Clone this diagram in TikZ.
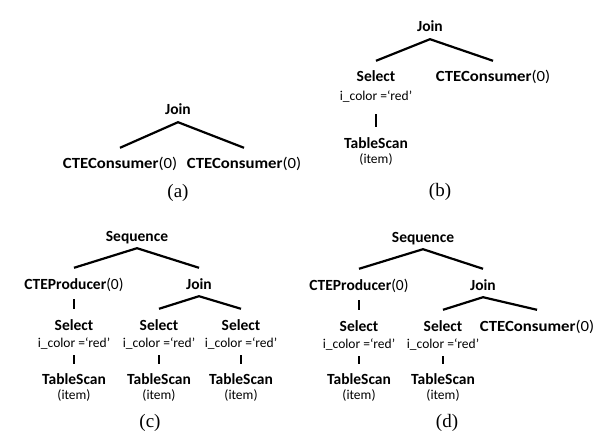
\documentclass[tikz,border=0pt]{standalone}
\usepackage{fontspec}
\setmainfont{Carlito}
\newfontfamily\capfont{Liberation Serif}
\begin{document}
\begin{tikzpicture}[x=1pt,y=-1pt,
  lab/.style={inner sep=0pt,anchor=base,text height=10pt,text depth=3pt},
  opn/.style={lab,font=\fontsize{15.5}{17}\selectfont\bfseries},
  sublab/.style={lab,font=\fontsize{13.5}{16}\selectfont},
  captxt/.style={inner sep=0pt,anchor=base,font=\capfont\fontsize{19}{21}\selectfont},
  treeln/.style={line width=2.2pt},
  barln/.style={line width=2.8pt}]
\useasboundingbox (0,0) rectangle (607,446);
\newcommand{\opc}[1]{\textbf{#1}\textmd{(0)}}
\newcommand{\consm}{\scalebox{1.08}[1]{\opc{CTEConsumer}}}
% ---------- (a)
\node[opn] (aj) at (178,115) {Join};
\node[opn] (ac1) at (120,169) {\consm};
\node[opn] (ac2) at (244,169) {\consm};
\node[captxt] (acap) at (178,198) {(a)};
\draw[treeln] ([yshift=11pt]ac1.north) -- ([yshift=-4pt]aj.south) -- ([yshift=11pt]ac2.north);
% ---------- (b)
\node[opn] (bj) at (430,32) {Join};
\node[opn] (bs) at (376,82) {Select};
\node[sublab] (bsc) at (376,101) {i\_color =‘red’};
\node[opn] (bc) at (493,82) {\consm};
\node[opn] (bt) at (376,149) {TableScan};
\node[sublab] (bti) at (376,164) {(item)};
\node[captxt] (bcap) at (440,197) {(b)};
\draw[treeln] ([yshift=11pt]bs.north) -- ([yshift=-4pt]bj.south) -- ([yshift=11pt]bc.north);
\draw[barln] ([yshift=-10pt]bsc.south) -- ([yshift=12pt]bt.north);
% ---------- (c)
\node[opn] (cq) at (137,241) {Sequence};
\node[opn] (cp) at (74,289) {\opc{CTEProducer}};
\node[opn] (cj) at (199,289) {Join};
\node[opn] (cs1) at (74,330) {Select};
\node[opn] (cs2) at (159,330) {Select};
\node[opn] (cs3) at (241,330) {Select};
\node[sublab] (cc1) at (74,347) {i\_color =‘red’};
\node[sublab] (cc2) at (159,347) {i\_color =‘red’};
\node[sublab] (cc3) at (241,347) {i\_color =‘red’};
\node[opn] (ct1) at (74,384) {TableScan};
\node[opn] (ct2) at (159,384) {TableScan};
\node[opn] (ct3) at (241,384) {TableScan};
\node[sublab] (ci1) at (74,399) {(item)};
\node[sublab] (ci2) at (159,399) {(item)};
\node[sublab] (ci3) at (241,399) {(item)};
\node[captxt] (ccap) at (150,427) {(c)};
\draw[treeln] ([yshift=11pt]cp.north) -- ([yshift=-4pt]cq.south) -- ([yshift=11pt]cj.north);
\draw[treeln] ([yshift=11pt]cs2.north) -- ([yshift=-4pt]cj.south) -- ([yshift=11pt]cs3.north);
\draw[barln] ([yshift=-7pt]cp.south) -- ([yshift=11pt]cs1.north);
\draw[barln] ([yshift=-5pt]cc1.south) -- ([yshift=10pt]ct1.north);
\draw[barln] ([yshift=-5pt]cc2.south) -- ([yshift=10pt]ct2.north);
\draw[barln] ([yshift=-5pt]cc3.south) -- ([yshift=10pt]ct3.north);
% ---------- (d)
\node[opn] (dq) at (423,242) {Sequence};
\node[opn] (dp) at (359,290) {\opc{CTEProducer}};
\node[opn] (dj) at (483,290) {Join};
\node[opn] (ds1) at (359,331) {Select};
\node[opn] (ds2) at (443,331) {Select};
\node[opn] (dc) at (537,331) {\consm};
\node[sublab] (dc1) at (359,348) {i\_color =‘red’};
\node[sublab] (dc2) at (443,348) {i\_color =‘red’};
\node[opn] (dt1) at (359,384) {TableScan};
\node[opn] (dt2) at (443,384) {TableScan};
\node[sublab] (di1) at (359,399) {(item)};
\node[sublab] (di2) at (443,399) {(item)};
\node[captxt] (dcap) at (447,427) {(d)};
\draw[treeln] ([yshift=11pt]dp.north) -- ([yshift=-4pt]dq.south) -- ([yshift=11pt]dj.north);
\draw[treeln] ([yshift=11pt]ds2.north) -- ([yshift=-4pt]dj.south) -- ([yshift=11pt]dc.north);
\draw[barln] ([yshift=-7pt]dp.south) -- ([yshift=11pt]ds1.north);
\draw[barln] ([yshift=-5pt]dc1.south) -- ([yshift=10pt]dt1.north);
\draw[barln] ([yshift=-5pt]dc2.south) -- ([yshift=10pt]dt2.north);
\end{tikzpicture}
\end{document}
